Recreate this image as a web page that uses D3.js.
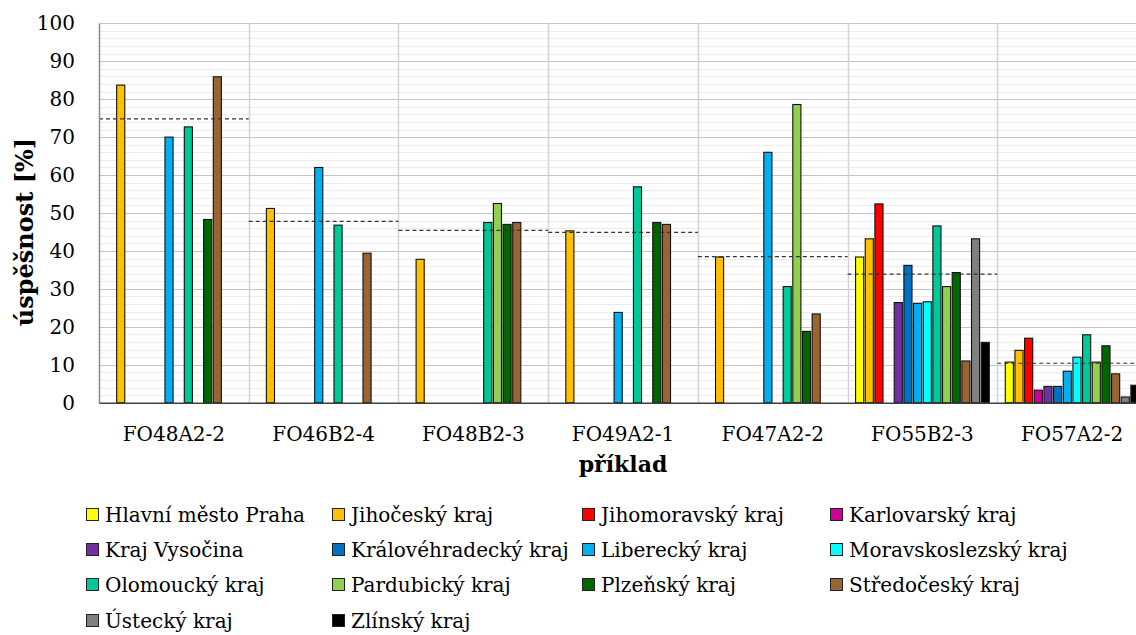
<!DOCTYPE html>
<html>
<head>
<meta charset="utf-8">
<script src="https://cdn.jsdelivr.net/npm/d3@7"></script>
<style>
  html, body { margin: 0; padding: 0; background: #fff; }
  svg { display: block; }
  text { font-family: "DejaVu Serif", serif; fill: #000; }
</style>
</head>
<body>
<svg id="chart" width="1136" height="635"></svg>
<script>
// Exercise codes on the x axis
const categories = ["FO48A2-2", "FO46B2-4", "FO48B2-3", "FO49A2-1", "FO47A2-2", "FO55B2-3", "FO57A2-2"];

// Regions (series) and their fill colours
const regions = [
  "Hlavní město Praha", "Jihočeský kraj", "Jihomoravský kraj", "Karlovarský kraj",
  "Kraj Vysočina", "Královéhradecký kraj", "Liberecký kraj", "Moravskoslezský kraj",
  "Olomoucký kraj", "Pardubický kraj", "Plzeňský kraj", "Středočeský kraj",
  "Ústecký kraj", "Zlínský kraj"
];
const regionColors = [
  "#ffff00", "#ffc000", "#ff0000", "#cc0099",
  "#7030a0", "#0070c0", "#00b0f0", "#00ffff",
  "#00c896", "#92d050", "#006600", "#996633",
  "#808080", "#000000"
];

// Success rate [%] per region, one value per exercise (null = not assigned)
const praha          = [null, null, null, null, null, 38.4, 10.7];
const jihocesky      = [83.7, 51.2, 37.8, 45.3, 38.4, 43.2, 13.8];
const jihomoravsky   = [null, null, null, null, null, 52.4, 17.0];
const karlovarsky    = [null, null, null, null, null, null, 3.3];
const vysocina       = [null, null, null, null, null, 26.4, 4.3];
const kralovehradecky= [null, null, null, null, null, 36.2, 4.3];
const liberecky      = [70.0, 62.0, null, 23.8, 66.0, 26.2, 8.3];
const moravskoslezsky= [null, null, null, null, null, 26.6, 12.0];
const olomoucky      = [72.7, 46.8, 47.5, 56.9, 30.6, 46.6, 17.9];
const pardubicky     = [null, null, 52.5, null, 78.6, 30.6, 10.7];
const plzensky       = [48.3, null, 47.0, 47.5, 18.8, 34.3, 15.0];
const stredocesky    = [85.9, 39.4, 47.5, 47.0, 23.4, 11.0, 7.6];
const ustecky        = [null, null, null, null, null, 43.2, 1.5];
const zlinsky        = [null, null, null, null, null, 15.9, 4.6];

// Overall average per exercise (dashed line)
const averages = [74.8, 47.8, 45.4, 44.9, 38.5, 33.9, 10.4];

const yTicks = [0, 10, 20, 30, 40, 50, 60, 70, 80, 90, 100];

const seriesValues = [praha, jihocesky, jihomoravsky, karlovarsky, vysocina, kralovehradecky,
  liberecky, moravskoslezsky, olomoucky, pardubicky, plzensky, stredocesky, ustecky, zlinsky];

const svg = d3.select("#chart");
const plotLeft = 99, plotRight = 1147, plotTop = 23.3, plotBottom = 402.7;

const x0 = d3.scaleBand().domain(categories).range([plotLeft, plotRight]).padding(0);
const x1 = d3.scaleBand().domain(regions).range([8, x0.bandwidth() - 8]).paddingInner(0.16).paddingOuter(0);
const y = d3.scaleLinear().domain([0, 100]).range([plotBottom, plotTop]);

// Minor gridlines every 2 %
const minor = d3.range(2, 100, 2).filter(v => v % 10 !== 0);
svg.append("g").selectAll("line").data(minor).join("line")
  .attr("x1", plotLeft).attr("x2", plotRight)
  .attr("y1", d => Math.round(y(d)) + 0.5).attr("y2", d => Math.round(y(d)) + 0.5)
  .attr("stroke", "#ebebeb").attr("stroke-width", 1);

// Major gridlines every 10 %
svg.append("g").selectAll("line").data(yTicks.slice(1)).join("line")
  .attr("x1", plotLeft).attr("x2", plotRight)
  .attr("y1", d => Math.round(y(d)) + 0.5).attr("y2", d => Math.round(y(d)) + 0.5)
  .attr("stroke", "#c4c4c4").attr("stroke-width", 1);

// Vertical separators between exercises
svg.append("g").selectAll("line").data(categories.slice(1)).join("line")
  .attr("x1", d => Math.round(x0(d)) + 0.5).attr("x2", d => Math.round(x0(d)) + 0.5)
  .attr("y1", plotTop).attr("y2", plotBottom)
  .attr("stroke", "#d4d4d4").attr("stroke-width", 1.5);

// Bars
const table = [];
categories.forEach((c, ci) => {
  regions.forEach((r, ri) => {
    const v = seriesValues[ri][ci];
    if (v != null) table.push({ cat: c, region: r, color: regionColors[ri], value: v });
  });
});
svg.append("g").selectAll("rect").data(table).join("rect")
  .attr("x", d => x0(d.cat) + x1(d.region))
  .attr("width", x1.bandwidth())
  .attr("y", d => y(d.value))
  .attr("height", d => y(0) - y(d.value))
  .attr("fill", d => d.color)
  .attr("stroke", "#111").attr("stroke-width", 1.1);

// Average lines
svg.append("g").selectAll("line").data(averages).join("line")
  .attr("x1", (d, i) => x0(categories[i]))
  .attr("x2", (d, i) => x0(categories[i]) + x0.bandwidth())
  .attr("y1", d => y(d)).attr("y2", d => y(d))
  .attr("stroke", "#333").attr("stroke-width", 1.2)
  .attr("stroke-dasharray", "4,3");

// Axes
const yAxis = d3.axisLeft(y).tickValues(yTicks).tickSize(0).tickPadding(24);
const gy = svg.append("g").attr("transform", `translate(${plotLeft},0)`).call(yAxis);
gy.select(".domain").attr("stroke", "#8c8c8c").attr("stroke-width", 1.5);
gy.selectAll("text").style("font-size", "20px").style("font-family", "DejaVu Serif");

const xAxis = d3.axisBottom(x0).tickSize(0).tickPadding(24);
const gx = svg.append("g").attr("transform", `translate(0,${plotBottom})`).call(xAxis);
gx.select(".domain").attr("stroke", "#404040").attr("stroke-width", 1.5);
gx.selectAll("text").style("font-size", "20px").style("font-family", "DejaVu Serif");

// Axis titles
svg.append("text")
  .attr("transform", `translate(33,232) rotate(-90)`)
  .attr("text-anchor", "middle")
  .style("font-size", "24px").style("font-weight", "bold")
  .text("úspěšnost [%]");

svg.append("text")
  .attr("x", (plotLeft + plotRight) / 2).attr("y", 472)
  .attr("text-anchor", "middle")
  .style("font-size", "22px").style("font-weight", "bold")
  .text("příklad");

// Legend: 4 columns
const colX = [86, 332, 582, 830];
const rowY = [515, 550, 585, 621];
const lg = svg.append("g").selectAll("g").data(regions).join("g")
  .attr("transform", (d, i) => `translate(${colX[i % 4]},${rowY[Math.floor(i / 4)]})`);
lg.append("rect")
  .attr("x", 0.5).attr("y", -6.5).attr("width", 12).attr("height", 12)
  .attr("fill", (d, i) => regionColors[i])
  .attr("stroke", "#222").attr("stroke-width", 1);
lg.append("text")
  .attr("x", 19).attr("y", 7)
  .style("font-size", "20px")
  .text(d => d);
</script>
</body>
</html>
